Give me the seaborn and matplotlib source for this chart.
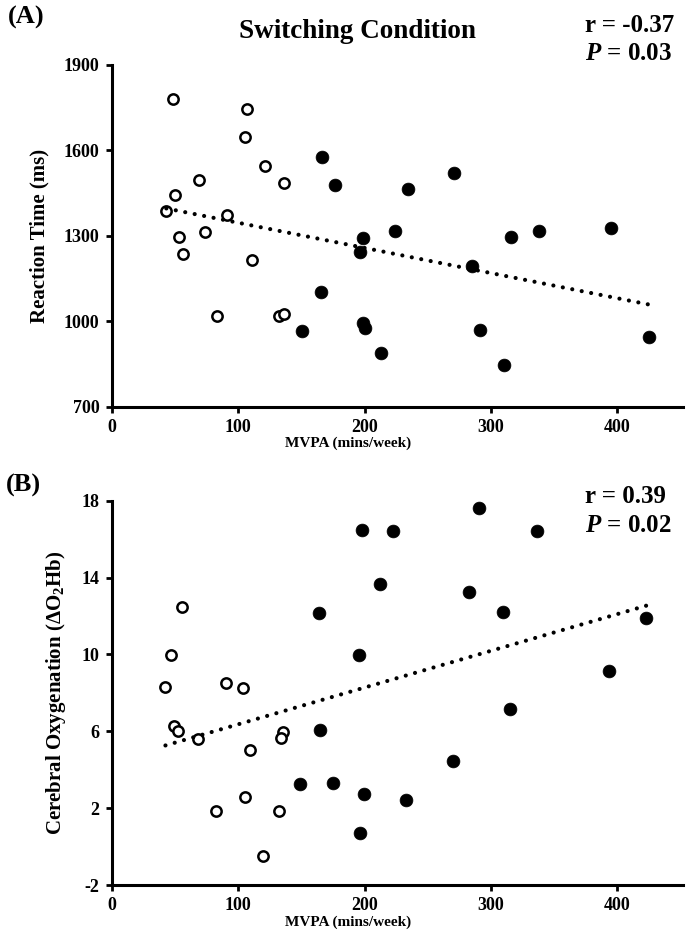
import numpy as np
import pandas as pd
import matplotlib
matplotlib.use("Agg")
import matplotlib.pyplot as plt
import seaborn as sns

# (A) switching condition: reaction time vs MVPA
a_open_x = [48, 107, 105, 121, 69, 136, 50, 43, 91, 73.5, 53, 56, 111, 83, 132, 136]
a_open_y = [1780, 1745, 1648, 1546, 1496, 1487, 1444, 1387, 1372, 1313, 1298, 1236, 1216, 1020, 1020, 1026]
a_fill_x = [166.5, 176.5, 199, 196, 224, 165.5, 150, 199, 200.5, 213, 234.5, 270.6,
            316, 338, 395, 285, 291, 310, 425]
a_fill_y = [1578, 1479, 1293, 1245, 1316, 1105, 968, 994, 978, 890, 1464, 1521,
            1298, 1317, 1327, 1196, 969, 847, 944]

# (B) cerebral oxygenation vs MVPA
b_open_x = [55.5, 46.5, 42.3, 90.3, 103.7, 49, 52.3, 68.1, 135.3, 134, 109.2, 105.5, 82.6, 132.2, 119.8]
b_open_y = [12.48, 9.95, 8.31, 8.53, 8.24, 6.30, 6.0, 5.61, 5.97, 5.66, 5.02, 2.58, 1.85, 1.85, -0.50]
b_fill_x = [198, 222.8, 212, 163.8, 195.4, 164.8, 149, 174.6, 199.6, 196.4, 290.5,
            336.6, 282.8, 309.5, 423, 393.3, 314.8, 269.7, 232.8]
b_fill_y = [16.48, 16.43, 13.69, 12.13, 9.95, 6.09, 3.24, 3.29, 2.72, 0.71, 17.64,
            16.43, 13.26, 12.2, 11.91, 9.12, 7.17, 4.45, 2.42]

x_ticks = [0, 100, 200, 300, 400]
a_yticks = [700, 1000, 1300, 1600, 1900]
b_yticks = [-2, 2, 6, 10, 14, 18]

sns.set_style("ticks")
plt.rcParams['font.family'] = ['Liberation Serif', 'DejaVu Serif']
plt.rcParams['font.weight'] = 'bold'
plt.rcParams['mathtext.fontset'] = 'custom'
plt.rcParams['mathtext.rm'] = 'Liberation Serif:bold'
plt.rcParams['mathtext.bf'] = 'Liberation Serif:bold'
plt.rcParams['mathtext.it'] = 'Liberation Serif:italic:bold'
plt.rcParams['axes.unicode_minus'] = False
for key in ['text.color', 'axes.labelcolor', 'xtick.color', 'ytick.color', 'axes.edgecolor']:
    plt.rcParams[key] = 'black'

fig = plt.figure(figsize=(6.88, 9.44), dpi=100)
ax1 = fig.add_axes([0.1628, 0.5689, 0.830, 0.3623])
ax2 = fig.add_axes([0.1628, 0.0625, 0.830, 0.4071])


def panel(ax, ox, oy, fx, fy, yticks, ylabel):
    df_o = pd.DataFrame({"x": ox, "y": oy})
    df_f = pd.DataFrame({"x": fx, "y": fy})
    df_all = pd.concat([df_o, df_f], ignore_index=True)
    sns.scatterplot(data=df_o, x="x", y="y", ax=ax, s=55, facecolor="white",
                    edgecolor="black", linewidth=1.8, zorder=3)
    sns.scatterplot(data=df_f, x="x", y="y", ax=ax, s=85, color="black",
                    edgecolor="black", linewidth=0.5, zorder=3)
    sns.regplot(data=df_all, x="x", y="y", ax=ax, scatter=False, ci=None,
                truncate=True, color="black",
                line_kws={"linewidth": 3.0, "linestyle": (0, (0.01, 2.3)),
                          "dash_capstyle": "round", "zorder": 4})
    ax.set_xlim(0, 452)
    ax.set_ylim(yticks[0], yticks[-1])
    ax.set_xticks(x_ticks)
    ax.set_yticks(yticks)
    ax.tick_params(labelsize=13, width=2, length=4, pad=5)
    for lab in ax.get_xticklabels() + ax.get_yticklabels():
        lab.set_fontweight("bold")
    ax.set_xlabel("MVPA (mins/week)", fontsize=11, fontweight="bold", labelpad=4)
    ax.xaxis.set_label_coords(0.413, -0.085 if ax is ax1 else -0.08)
    ax.set_ylabel(ylabel, fontsize=15, fontweight="bold", labelpad=10)
    sns.despine(ax=ax)
    for sp in ["left", "bottom"]:
        ax.spines[sp].set_linewidth(2.2)


panel(ax1, a_open_x, a_open_y, a_fill_x, a_fill_y, a_yticks, "Reaction Time (ms)")
panel(ax2, b_open_x, b_open_y, b_fill_x, b_fill_y, b_yticks,
      "Cerebral Oxygenation (ΔO$_2$Hb)")

fig.text(0.012, 1 - 17 / 944, "(A)", fontsize=19, fontweight="bold", va="center")
fig.text(0.52, 1 - 32 / 944, "Switching Condition", fontsize=19.5, fontweight="bold",
         va="center", ha="center")
fig.text(0.85, 1 - 25 / 944, "r = -0.37", fontsize=18, fontweight="bold", va="center")
fig.text(0.85, 1 - 53 / 944, "$P$ = 0.03", fontsize=18, fontweight="bold", va="center")

fig.text(0.008, 1 - 485 / 944, "(B)", fontsize=19, fontweight="bold", va="center")
fig.text(0.85, 1 - 496 / 944, "r = 0.39", fontsize=18, fontweight="bold", va="center")
fig.text(0.85, 1 - 525 / 944, "$P$ = 0.02", fontsize=18, fontweight="bold", va="center")

fig.savefig("out.png", dpi=100)
